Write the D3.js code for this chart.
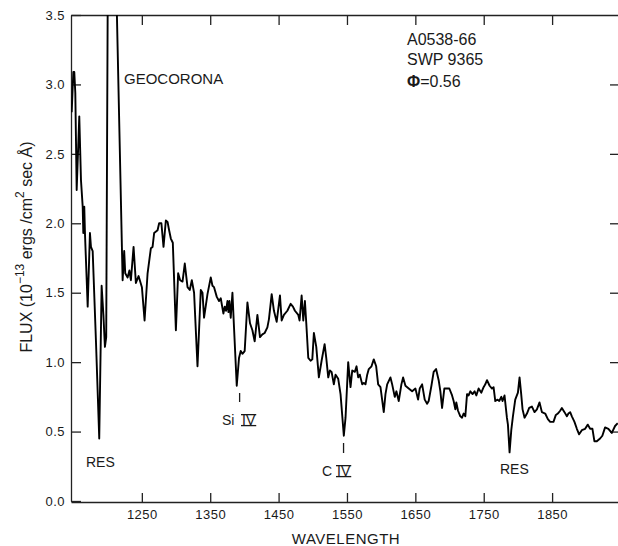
<!DOCTYPE html>
<html><head><meta charset="utf-8">
<script src="https://cdn.jsdelivr.net/npm/d3@7"></script>
<style>
html,body{margin:0;padding:0;background:#fff;}
text{font-family:"Liberation Sans",Arial,sans-serif;fill:#1a1a1a;}
</style></head>
<body><svg id="c" width="618" height="546"></svg>
<script>
const wavelength = [1147.4,1149.8,1151.2,1152.7,1154.7,1158.5,1161.0,1163.5,1164.4,1165.8,1166.8,1170.8,1174.1,1175.6,1178.1,1182.9,1187.7,1191.2,1193.8,1196.0,1197.9,1200.3,1206.0,1212.1,1221.9,1224.2,1225.7,1229.2,1231.8,1234.0,1237.9,1241.3,1245.2,1250.1,1254.0,1258.4,1263.2,1265.7,1268.0,1273.0,1275.3,1278.6,1281.7,1285.1,1287.6,1289.9,1292.4,1295.3,1299.8,1303.1,1306.0,1309.5,1312.8,1316.8,1320.1,1323.1,1326.4,1331.4,1336.2,1338.7,1341.0,1346.0,1350.8,1353.3,1355.6,1359.6,1362.9,1365.4,1369.3,1371.2,1373.1,1375.2,1376.7,1378.1,1380.0,1382.5,1384.8,1388.8,1392.1,1394.6,1397.1,1400.4,1404.4,1408.2,1411.7,1415.0,1419.0,1422.8,1426.3,1429.6,1433.6,1435.9,1439.9,1443.2,1447.2,1452.0,1454.5,1457.8,1462.8,1467.6,1471.0,1473.9,1478.8,1480.7,1483.7,1486.1,1488.5,1490.5,1493.4,1496.8,1499.3,1501.6,1505.1,1508.9,1512.9,1517.3,1519.7,1522.6,1525.0,1527.5,1530.8,1533.3,1537.2,1540.6,1545.4,1547.9,1551.8,1555.2,1557.7,1561.5,1564.0,1566.4,1568.8,1572.3,1574.6,1577.1,1579.6,1581.9,1585.9,1589.2,1592.7,1595.6,1599.0,1603.8,1606.3,1608.8,1613.6,1616.1,1619.9,1622.3,1625.7,1629.6,1632.1,1635.5,1640.3,1645.3,1650.1,1654.0,1656.4,1659.9,1663.7,1667.2,1669.5,1673.5,1676.8,1680.3,1684.1,1686.6,1689.1,1692.4,1696.4,1699.7,1703.7,1706.0,1708.5,1709.9,1712.4,1715.8,1718.3,1720.6,1723.1,1725.6,1727.9,1730.4,1733.7,1736.7,1739.2,1742.5,1746.5,1749.8,1752.3,1754.8,1758.6,1762.1,1764.4,1766.9,1770.2,1772.7,1775.7,1777.5,1780.4,1783.9,1785.4,1787.8,1790.3,1792.7,1796.1,1800.0,1802.4,1804.8,1806.8,1809.7,1813.2,1816.5,1820.5,1824.3,1827.8,1831.6,1835.1,1839.9,1843.8,1847.2,1852.0,1855.5,1858.4,1861.8,1864.3,1868.1,1871.6,1873.9,1876.4,1878.9,1882.7,1886.2,1889.5,1893.5,1898.3,1902.2,1905.6,1909.0,1911.9,1915.4,1920.2,1923.5,1927.5,1932.3,1937.3,1942.1,1946.0];
const flux = [2.80,3.09,3.09,2.94,2.24,2.77,2.31,2.12,1.93,2.12,1.93,1.40,1.93,1.83,1.80,1.15,0.45,1.55,1.34,1.11,1.18,3.83,4.60,3.83,1.59,1.80,1.64,1.61,1.66,1.59,1.83,1.57,1.62,1.54,1.30,1.64,1.82,1.83,1.93,1.95,2.00,2.00,1.83,2.02,2.01,1.95,1.89,1.86,1.23,1.64,1.59,1.58,1.71,1.54,1.52,1.59,1.50,0.97,1.52,1.50,1.32,1.49,1.61,1.55,1.54,1.47,1.44,1.46,1.35,1.40,1.37,1.44,1.36,1.44,1.32,1.50,1.25,0.83,1.03,1.08,1.06,1.08,1.43,1.28,1.23,1.15,1.34,1.18,1.20,1.21,1.25,1.31,1.49,1.37,1.29,1.48,1.30,1.34,1.37,1.42,1.40,1.37,1.34,1.30,1.48,1.30,1.44,1.28,1.03,1.01,1.02,1.21,1.11,0.89,1.01,1.13,1.03,0.89,0.94,0.93,0.84,0.91,0.88,0.77,0.47,0.60,1.00,0.82,0.94,0.93,0.97,0.89,0.91,0.84,0.85,0.84,0.91,0.95,0.97,1.02,0.97,0.84,0.82,0.64,0.77,0.84,0.89,0.84,0.75,0.79,0.72,0.84,0.89,0.83,0.81,0.79,0.81,0.73,0.81,0.84,0.73,0.70,0.72,0.83,0.93,0.95,0.87,0.79,0.67,0.81,0.81,0.81,0.76,0.72,0.66,0.71,0.65,0.61,0.60,0.63,0.61,0.77,0.76,0.79,0.77,0.79,0.76,0.81,0.78,0.82,0.84,0.87,0.83,0.81,0.82,0.72,0.73,0.72,0.75,0.72,0.76,0.60,0.55,0.35,0.51,0.61,0.73,0.78,0.89,0.77,0.66,0.60,0.63,0.67,0.68,0.64,0.66,0.71,0.64,0.63,0.59,0.57,0.57,0.62,0.63,0.65,0.67,0.64,0.61,0.63,0.64,0.61,0.57,0.52,0.48,0.51,0.52,0.55,0.52,0.52,0.43,0.43,0.45,0.47,0.53,0.52,0.49,0.54,0.56];
const xTicks = [1250,1350,1450,1550,1650,1750,1850];
const yTicks = [0,0.5,1.0,1.5,2.0,2.5,3.0,3.5];
const yTickLabels = ["0.0","0.5","1.0","1.5","2.0","2.5","3.0","3.5"];
const xDomain = [1146.4,1949.3];
const yDomain = [0,3.5];

const svg = d3.select("#c");
const L=71, R=620, T=15, B=501;
const x = d3.scaleLinear().domain(xDomain).range([L,R]);
const y = d3.scaleLinear().domain(yDomain).range([B,T]);

svg.append("defs").append("clipPath").attr("id","clip")
  .append("rect").attr("x",L).attr("y",T).attr("width",R-L).attr("height",B-T);

const fmtY = d => yTickLabels[yTicks.indexOf(d)];
const axStyle = g => { g.select(".domain").attr("stroke","#222").attr("stroke-width",1.3);
  g.selectAll(".tick line").attr("stroke","#222").attr("stroke-width",1.3);
  g.selectAll(".tick text").style("font-size","13px").style("letter-spacing","0.5px").attr("fill","#333"); };

svg.append("g").attr("transform",`translate(0,${B+1})`)
  .call(d3.axisBottom(x).tickValues(xTicks).tickSize(-9).tickPadding(8).tickSizeOuter(0).tickFormat(d3.format("d")))
  .call(axStyle);
svg.append("g").attr("transform",`translate(0,${T})`)
  .call(d3.axisTop(x).tickValues(xTicks).tickSize(-10).tickSizeOuter(0).tickFormat(""))
  .call(axStyle);
svg.append("g").attr("transform",`translate(${L},0)`)
  .call(d3.axisLeft(y).tickValues(yTicks).tickSize(-10).tickPadding(6).tickSizeOuter(0).tickFormat(fmtY))
  .call(axStyle);
svg.append("g").attr("transform",`translate(${R},0)`)
  .call(d3.axisRight(y).tickValues(yTicks.slice(1,-1)).tickSize(-10).tickSizeOuter(0).tickFormat(""))
  .call(axStyle);

const pts = wavelength.map((w,i)=>[w,flux[i]]);
svg.append("path").datum(pts).attr("clip-path","url(#clip)")
  .attr("fill","none").attr("stroke","#000").attr("stroke-width",1.9).attr("stroke-linejoin","round")
  .attr("d", d3.line().x(d=>x(d[0])).y(d=>y(d[1])));

// axis titles
svg.append("text").attr("x",346).attr("y",544).attr("text-anchor","middle")
  .style("font-size","15px").style("letter-spacing","0.5px").text("WAVELENGTH");
const yt = svg.append("text").attr("transform","translate(32,247) rotate(-90)")
  .attr("text-anchor","middle").style("font-size","16px");
yt.append("tspan").text("FLUX (10");
yt.append("tspan").attr("dy",-8).style("font-size","12px").text("−13");
yt.append("tspan").attr("dy",8).text(" ergs /cm");
yt.append("tspan").attr("dy",-8).style("font-size","12px").text("2");
yt.append("tspan").attr("dy",8).text(" sec Å)");

// annotations
const ann = (tx,ty,s,fs)=>svg.append("text").attr("x",tx).attr("y",ty).style("font-size",fs+"px").text(s);
ann(124,84,"GEOCORONA",15);
ann(407,45,"A0538-66",16);
ann(407,65,"SWP 9365",16);
const ph = svg.append("text").attr("x",407).attr("y",87).style("font-size","16px");
ph.append("tspan").style("font-weight","bold").text("Φ");
ph.append("tspan").text("=0.56");
ann(86,467,"RES",14);
ann(500,474,"RES",14);

function roman(tx,ty,fs){
  const t = svg.append("text").attr("x",tx).attr("y",ty).style("font-size",fs+"px").text("IV");
  const w = t.node().getComputedTextLength();
  [ty-fs*0.74, ty+0.6].forEach(yy=>svg.append("line").attr("x1",tx-1).attr("x2",tx+w+1)
     .attr("y1",yy).attr("y2",yy).attr("stroke","#1a1a1a").attr("stroke-width",1.3));
}
ann(222,425,"Si",14); roman(242,425,14);
ann(322,476,"C",14); roman(337,476,14);
// line-identification marks
const marks = [[1393.0,393,402],[1545.0,443,453]];
marks.forEach(m=>svg.append("line").attr("x1",x(m[0])).attr("x2",x(m[0])).attr("y1",m[1]).attr("y2",m[2])
  .attr("stroke","#1a1a1a").attr("stroke-width",1.3));
</script></body></html>
